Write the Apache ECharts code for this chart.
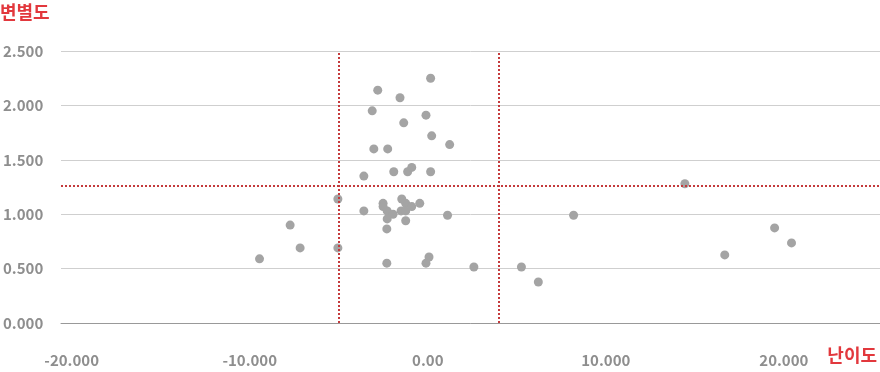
<!DOCTYPE html>
<html>
<head>
<meta charset="utf-8">
<script src="https://cdn.jsdelivr.net/npm/echarts@6/dist/echarts.min.js"></script>
<style>
html,body{margin:0;padding:0;background:#fff;}
#chart{width:880px;height:372px;}
</style>
</head>
<body>
<div id="chart"></div>
<script>
// 난이도 (x) and 변별도 (y) values
const difficulty = [0.16, -2.81, -1.56, -3.12, -0.10, -1.35, 0.22, 1.23, -3.03, -2.25,
  -3.59, -1.91, -1.13, -0.90, 0.16, -5.05, -3.59, -2.51, -2.51, -2.28,
  -2.28, -1.95, -2.30, -1.46, -1.24, -1.50, -1.24, -0.90, -0.45, -1.24,
  1.11, -7.73, -7.17, -5.05, -9.45, -2.30, 0.07, -0.10, 2.59, 5.26,
  14.44, 8.19, 19.48, 20.43, 16.68, 6.21];
const discrimination = [2.25, 2.14, 2.07, 1.95, 1.91, 1.84, 1.72, 1.64, 1.60, 1.60,
  1.35, 1.39, 1.39, 1.43, 1.39, 1.14, 1.03, 1.10, 1.07, 1.03,
  0.957, 1.00, 0.865, 1.14, 1.10, 1.03, 1.03, 1.07, 1.10, 0.94,
  0.99, 0.90, 0.69, 0.69, 0.59, 0.55, 0.607, 0.55, 0.515, 0.515,
  1.28, 0.99, 0.874, 0.736, 0.626, 0.377];
const xTickValues = [-20, -10, 0, 10, 20];
const xTickLabels = ['-20.000', '-10.000', '0.00', '10.000', '20.000'];
const cutDifficulty = [-5.0, 4.0];
const cutDiscrimination = [1.262];

const points = difficulty.map((d, i) => [d, discrimination[i]]);
const FONT = '"Noto Sans CJK KR", "Noto Sans", sans-serif';
const RED = '#e2383d';
const LINE_RED = '#c43a3c';

const chart = echarts.init(document.getElementById('chart'), null, {renderer: 'canvas'});
chart.setOption({
  animation: false,
  backgroundColor: '#fff',
  grid: {left: 59, right: 0, top: 51, bottom: 49, containLabel: false},
  xAxis: {
    type: 'value',
    min: -20.6,
    max: 25.4,
    splitLine: {show: false},
    axisTick: {show: false},
    axisLine: {show: true, onZero: false, lineStyle: {color: '#999', width: 1}},
    axisLabel: {
      customValues: xTickValues,
      formatter: v => xTickLabels[xTickValues.indexOf(Math.round(v))] ?? '',
      color: '#8e8e8e', fontSize: 15, fontWeight: 'bold', fontFamily: FONT, margin: 30
    }
  },
  yAxis: {
    type: 'value',
    min: 0, max: 2.5, interval: 0.5,
    axisLine: {show: false},
    axisTick: {show: false},
    splitLine: {show: true, lineStyle: {color: '#cfcfcf', width: 1}},
    axisLabel: {
      formatter: v => v.toFixed(3),
      align: 'left', margin: 58,
      color: '#8e8e8e', fontSize: 15, fontWeight: 'bold', fontFamily: FONT
    }
  },
  graphic: [
    {type: 'text', left: 0, top: 3, style: {text: '변별도', fill: RED, font: 'bold 18px ' + FONT}},
    {type: 'text', right: 3, top: 346, style: {text: '난이도', fill: RED, font: 'bold 18px ' + FONT}}
  ],
  series: [{
    type: 'scatter',
    data: points,
    symbolSize: 9,
    itemStyle: {color: '#a4a4a4', opacity: 1},
    markLine: {
      silent: true,
      symbol: 'none',
      label: {show: false},
      lineStyle: {color: LINE_RED, type: 'dotted', width: 2},
      data: [
        ...cutDifficulty.map(v => ({xAxis: v})),
        ...cutDiscrimination.map(v => ({yAxis: v}))
      ]
    },
    z: 3
  }]
});
</script>
</body>
</html>
